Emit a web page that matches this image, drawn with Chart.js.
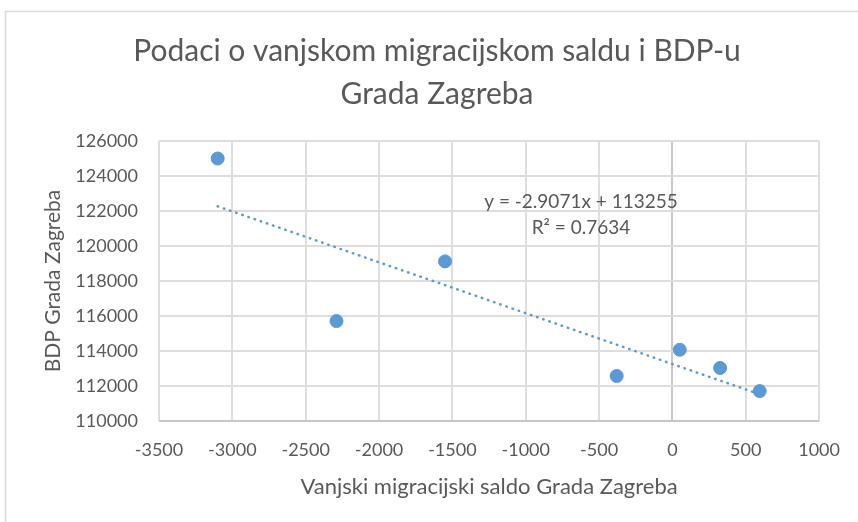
<!DOCTYPE html>
<html>
<head>
<meta charset="utf-8">
<script src="https://cdn.jsdelivr.net/npm/chart.js@4.4.1/dist/chart.umd.min.js"></script>
<style>
  html, body { margin: 0; padding: 0; background: #fff; }
  #wrap { width: 858px; height: 522px; }
</style>
</head>
<body>
<div id="wrap"><canvas id="scatterChart" width="858" height="522"></canvas></div>
<script>
// podaci
const migracijskiSaldo = [-3100, -2290, -1550, -380, 50, 325, 595];
const bdpZagreb = [125000, 115710, 119120, 112570, 114070, 113030, 111710];
const xTickovi = [-3500, -3000, -2500, -2000, -1500, -1000, -500, 0, 500, 1000];
const yTickovi = [110000, 112000, 114000, 116000, 118000, 120000, 122000, 124000, 126000];
const nagib = -2.9071;
const odsjecak = 113255;
const r2 = 0.7634;

const naslov = ['Podaci o vanjskom migracijskom saldu i BDP-u', 'Grada Zagreba'];
const plava = '#5B9BD5';
const siva = '#595959';
const font = 'Lato';

Chart.defaults.color = siva;
Chart.defaults.font.family = font;
Chart.defaults.font.size = 18;

const tocke = migracijskiSaldo.map((x, i) => ({ x: x, y: bdpZagreb[i] }));
const xMin = Math.min(...migracijskiSaldo);
const xMax = Math.max(...migracijskiSaldo);
const trend = [xMin, xMax].map(x => ({ x: x, y: nagib * x + odsjecak }));

const fmt = v => (v < 0 ? '-' : '') + Math.abs(v).toFixed(4).replace(/0+$/, '');

const okvirPlugin = {
    id: 'okvir',
    beforeDraw(chart) {
        const ctx = chart.ctx;
        ctx.save();
        ctx.fillStyle = '#fff';
        ctx.fillRect(0, 0, chart.width, chart.height);
        ctx.strokeStyle = '#D9D9D9';
        ctx.lineWidth = 1.5;
        ctx.strokeRect(5.5, 11.5, chart.width + 20, chart.height + 20);
        // naslov
        ctx.fillStyle = siva;
        ctx.font = '30px ' + font;
        ctx.textAlign = 'center';
        ctx.textBaseline = 'middle';
        ctx.fillText(naslov[0], 437, 51);
        ctx.fillText(naslov[1], 437, 94);
        ctx.restore();
    }
};

const jednadzbaPlugin = {
    id: 'jednadzba',
    afterDatasetsDraw(chart) {
        const ctx = chart.ctx;
        const a = chart.chartArea;
        ctx.save();
        ctx.fillStyle = siva;
        ctx.font = '19px ' + font;
        ctx.textAlign = 'center';
        ctx.textBaseline = 'middle';
        const cx = a.left + 422;
        ctx.fillText('y = ' + fmt(nagib) + 'x + ' + odsjecak, cx, a.top + 61);
        ctx.fillText('R\u00B2 = ' + r2, cx, a.top + 87);
        ctx.restore();
    }
};

new Chart('scatterChart', {
    type: 'scatter',
    data: {
        datasets: [{
            label: 'BDP',
            data: tocke,
            backgroundColor: plava,
            borderColor: plava,
            pointRadius: 6.5,
            pointHoverRadius: 6.5,
            order: 1
        }, {
            label: 'Trend',
            data: trend,
            showLine: true,
            pointRadius: 0,
            borderColor: plava,
            borderWidth: 2.5,
            borderDash: [0.5, 6],
            borderCapStyle: 'round',
            order: 2
        }]
    },
    options: {
        responsive: false,
        animation: false,
        layout: {
            padding: { top: 141, right: 38, left: 30, bottom: 0 }
        },
        plugins: {
            legend: { display: false },
            tooltip: { enabled: false }
        },
        scales: {
            x: {
                type: 'linear',
                min: xTickovi[0],
                max: xTickovi[xTickovi.length - 1],
                afterBuildTicks: s => { s.ticks = xTickovi.map(v => ({ value: v })); },
                afterFit: s => { s.height = 101; },
                ticks: {
                    padding: 18,
                    maxRotation: 0,
                    callback: v => String(v)
                },
                grid: {
                    drawTicks: false,
                    lineWidth: 2,
                    color: c => c.tick && c.tick.value === 0 ? '#C8C8C8' : '#DEDEDE'
                },
                border: { display: false },
                title: {
                    display: true,
                    text: 'Vanjski migracijski saldo Grada Zagreba',
                    font: { size: 22 },
                    padding: { top: 4, bottom: 22 }
                }
            },
            y: {
                type: 'linear',
                min: yTickovi[0],
                max: yTickovi[yTickovi.length - 1],
                afterBuildTicks: s => { s.ticks = yTickovi.map(v => ({ value: v })); },
                afterFit: s => { s.width = 129; },
                ticks: {
                    padding: 21,
                    callback: v => String(v)
                },
                grid: {
                    drawTicks: false,
                    lineWidth: 2,
                    color: c => c.tick && c.tick.value === yTickovi[0] ? '#C8C8C8' : '#DEDEDE'
                },
                border: { display: false },
                title: {
                    display: true,
                    text: 'BDP Grada Zagreba',
                    font: { size: 21 },
                    padding: { top: 11, bottom: 0 }
                }
            }
        }
    },
    plugins: [okvirPlugin, jednadzbaPlugin]
});
</script>
</body>
</html>
